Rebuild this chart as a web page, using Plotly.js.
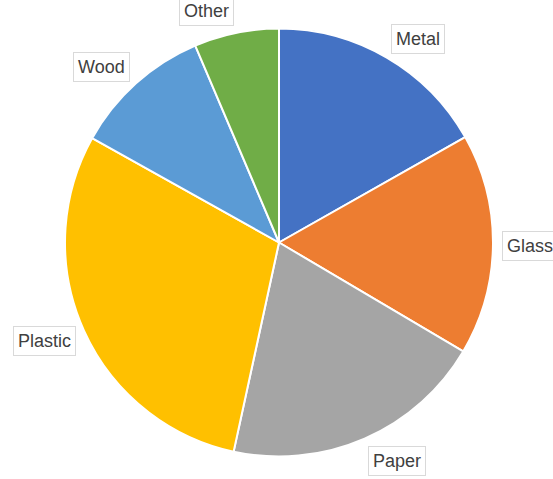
<!DOCTYPE html>
<html>
<head>
<meta charset="utf-8">
<script src="https://cdn.plot.ly/plotly-3.0.1.min.js"></script>
<style>html,body{margin:0;padding:0;background:#fff;}#chart{width:553px;height:479px;}</style>
</head>
<body>
<div id="chart"></div>
<script>
const categories = ["Metal", "Glass", "Paper", "Plastic", "Wood", "Other"];
const values = [16.8, 16.7, 19.9, 29.7, 10.5, 6.4];
const colors = ["#4472C4", "#ED7D31", "#A5A5A5", "#FFC000", "#5B9BD5", "#70AD47"];

const W = 553, H = 479;
const cx = 279, cy = 242.5, R = 214;

// Label annotations placed from slice mid-angles
const total = values.reduce((a, b) => a + b, 0);
let cum = 0;
const annotations = categories.map((c, i) => {
  const mid = (cum + values[i] / 2) / total * 2 * Math.PI;
  cum += values[i];
  const s = Math.sin(mid), co = Math.cos(mid);
  const r = R + 9;
  const px = cx + r * s, py = cy - r * co - co * 14 + 1;
  return {
    text: c, showarrow: false, xref: "paper", yref: "paper",
    x: px / W, y: 1 - py / H,
    xanchor: s > 0.15 ? "left" : (s < -0.15 ? "right" : "center"),
    yanchor: "middle",
    font: {family: "Liberation Sans, Arial, sans-serif", size: 18, color: "#404040"},
    bgcolor: "#FFFFFF", bordercolor: "#D9D9D9", borderwidth: 1, borderpad: 4
  };
});

const trace = {
  type: "pie",
  labels: categories,
  values: values,
  sort: false,
  direction: "clockwise",
  rotation: 0,
  textinfo: "none",
  hoverinfo: "label+value",
  marker: {colors: colors, line: {color: "#FFFFFF", width: 2}},
  domain: {x: [(cx - R) / W, (cx + R) / W], y: [(H - cy - R) / H, (H - cy + R) / H]},
  showlegend: false
};

Plotly.newPlot("chart", [trace], {
  width: W, height: H,
  margin: {l: 0, r: 0, t: 0, b: 0},
  paper_bgcolor: "#FFFFFF",
  showlegend: false,
  annotations: annotations
}, {staticPlot: true});
</script>
</body>
</html>
